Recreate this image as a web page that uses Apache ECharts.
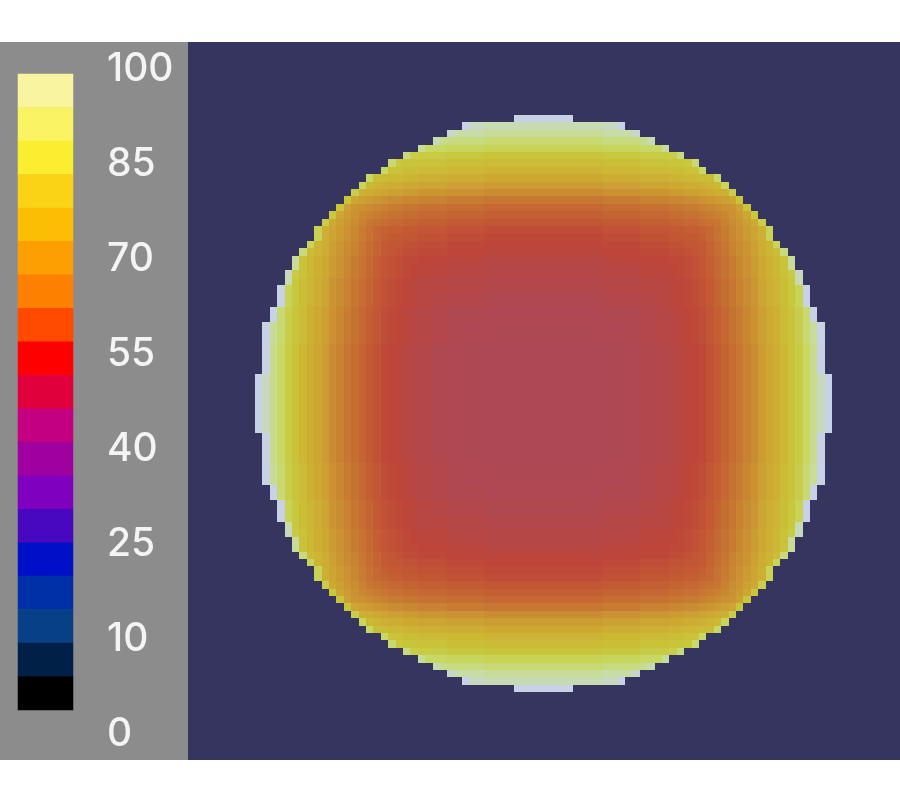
<!DOCTYPE html>
<html>
<head>
<meta charset="utf-8">
<style>html,body{margin:0;padding:0;background:#fff}#c{width:900px;height:800px}</style>
<script src="https://cdn.jsdelivr.net/npm/echarts@6/dist/echarts.min.js"></script>
</head>
<body>
<div id="c"></div>
<script>
// Tick labels of the colour bar, top to bottom
var tickLabels = ['100','85','70','55','40','25','10','0'];
// Colour bar bands, top to bottom
var bandColors = ['#F8F4A0','#FAF363','#FBEE30','#FBD316','#FCBE04','#FD9F02','#FE8000','#FF4A00','#FF0000','#E0003C','#C40080','#A000A0','#8000C0','#4808C0','#0010C8','#0030A8','#084088','#002048','#000000'];
// Colours of the disk field from value 40 to 100 in equal steps
var fieldColors = ['#A84860','#AB4858','#B04850','#BE453A','#C45A34','#C67232','#CA8C32','#CDA532','#CDB834','#C8C83C','#C8D864','#C8DCA5','#C8D2E6'];
// Upper right quarter of the disk, read row by row from the centre outwards
var quarter = [
[47,47,47,47,47,47,47,47,48,48,48,49,49,50,50,51,51,52,53,54,55,56,58,60,62,64,66,68,70,73,75,77,80,83,86,90,93,97,100],
[47,47,47,47,47,47,47,47,48,48,48,49,49,50,50,51,51,52,53,54,55,56,58,60,62,64,66,68,70,73,75,77,80,83,86,90,93,97,100],
[47,47,47,47,47,47,47,47,48,48,48,49,49,50,50,51,51,52,53,54,55,56,58,60,62,64,66,68,70,73,75,77,80,83,86,90,93,97,100],
[47,47,47,47,47,47,47,47,48,48,48,49,49,50,50,51,51,52,53,54,55,56,58,60,62,64,66,68,70,73,75,77,80,83,86,90,93,97,100],
[47,47,47,47,47,47,47,47,48,48,48,49,49,50,50,51,51,52,53,54,55,56,58,60,62,64,66,68,70,73,75,77,80,83,86,90,93,100],
[47,47,47,47,47,47,47,47,48,48,48,49,49,50,50,51,51,52,53,54,55,56,58,60,62,64,66,68,70,73,75,77,80,83,86,90,93,100],
[47,47,47,47,47,47,47,47,48,48,48,49,49,50,50,51,51,52,53,54,55,56,58,60,62,64,66,68,70,73,75,77,80,83,86,90,93,100],
[47,47,47,47,47,47,47,47,48,48,48,49,49,50,50,51,51,52,53,54,55,56,58,60,62,64,66,68,70,73,75,77,80,83,86,90,93,100],
[48,48,48,48,48,48,48,48,49,49,49,50,50,51,51,52,52,53,54,55,56,57,59,61,63,65,67,69,71,74,76,78,81,84,87,91,94,100],
[48,48,48,48,48,48,48,48,49,49,49,50,50,51,51,52,52,53,54,55,56,57,59,61,63,65,67,69,71,74,76,78,81,84,87,91,94,100],
[48,48,48,48,48,48,48,48,49,49,49,50,50,51,51,52,52,53,54,55,56,57,59,61,63,65,67,69,71,74,76,78,81,84,87,91,94,100],
[49,49,49,49,49,49,49,49,50,50,50,50,50,51,51,52,52,53,54,55,56,57,59,61,63,65,67,69,71,74,76,78,81,84,87,91,100],
[49,49,49,49,49,49,49,49,50,50,50,50,50,51,51,52,52,53,54,55,56,57,59,61,63,65,67,69,71,74,76,78,81,84,87,91,100],
[50,50,50,50,50,50,50,50,51,51,51,51,51,52,52,53,53,54,55,56,57,58,60,62,64,66,68,70,72,75,77,79,82,85,88,100],
[50,50,50,50,50,50,50,50,51,51,51,51,51,52,52,53,53,54,55,56,57,58,60,62,64,66,68,70,72,75,77,79,82,85,88,100],
[51,51,51,51,51,51,51,51,52,52,52,52,52,53,53,53,53,54,55,56,57,58,60,62,64,66,68,70,72,75,77,79,82,85,88,100],
[51,51,51,51,51,51,51,51,52,52,52,52,52,53,53,53,53,54,55,56,57,58,60,62,64,66,68,70,72,75,77,79,82,85,96],
[52,52,52,52,52,52,52,52,53,53,53,53,53,54,54,54,54,55,56,57,58,59,61,63,65,67,69,71,73,76,78,80,83,86,97],
[52,52,52,52,52,52,52,52,53,53,53,53,53,54,54,54,54,55,56,57,58,59,61,63,65,67,69,71,73,76,78,80,83,94],
[53,53,53,53,53,53,53,53,54,54,54,54,54,55,55,55,55,56,56,57,58,59,61,63,65,67,69,71,73,76,78,80,83,94],
[54,54,54,54,54,54,54,54,55,55,55,55,55,56,56,56,56,57,57,58,59,60,62,64,66,68,70,72,74,77,79,81,92],
[55,55,55,55,55,55,55,55,56,56,56,56,56,57,57,57,57,58,58,59,59,60,62,64,66,68,70,72,74,77,79,89],
[56,56,56,56,56,56,56,56,57,57,57,57,57,58,58,58,58,59,59,60,60,61,63,65,67,69,71,73,75,78,88],
[57,57,57,57,57,57,57,57,58,58,58,58,58,59,59,59,59,60,60,61,61,62,63,65,67,69,71,73,75,78,88],
[59,59,59,59,59,59,59,59,60,60,60,60,60,61,61,61,61,62,62,63,63,64,65,66,68,70,72,74,76,87],
[61,61,61,61,61,61,61,61,62,62,62,62,62,63,63,63,63,64,64,65,65,66,67,68,69,71,73,75,85],
[63,63,63,63,63,63,63,63,64,64,64,64,64,65,65,65,65,66,66,67,67,68,69,70,71,72,74,84],
[66,66,66,66,66,66,66,66,67,67,67,67,67,68,68,68,68,69,69,70,70,71,72,73,74,75,84],
[70,70,70,70,70,70,70,70,71,71,71,71,71,72,72,72,72,73,73,74,74,75,76,77,78,87],
[73,73,73,73,73,73,73,73,74,74,74,74,74,75,75,75,75,76,76,77,77,78,79,80,89],
[76,76,76,76,76,76,76,76,77,77,77,77,77,78,78,78,78,79,79,80,80,81,82,90],
[79,79,79,79,79,79,79,79,80,80,80,80,80,81,81,81,81,82,82,83,83,90],
[81,81,81,81,81,81,81,81,82,82,82,82,82,83,83,83,83,84,84,85,91],
[84,84,84,84,84,84,84,84,85,85,85,85,85,86,86,86,86,87,92],
[88,88,88,88,88,88,88,88,89,89,89,89,89,90,90,90,94],
[91,91,91,91,91,91,91,91,92,92,92,92,92,93,96],
[94,94,94,94,94,94,94,94,95,95,95,95,98],
[96,96,96,96,96,96,96,96,97,97,100],
[100,100,100,100]
];

var half = quarter.length, side = half * 2;
var indices = [];
for (var k = 0; k < side; k++) indices.push(k);
var cells = [];
quarter.forEach(function (row, j) {
  row.forEach(function (v, i) {
    cells.push([half + i, half + j, v], [half - 1 - i, half + j, v],
               [half + i, half - 1 - j, v], [half - 1 - i, half - 1 - j, v]);
  });
});

var bandCount = bandColors.length, bandStep = 100 / bandCount;
var bandIdx = [], bandCells = [], bandPieces = [];
bandColors.forEach(function (c, i) {
  var lo = (bandCount - 1 - i) * bandStep;
  bandIdx.push(i);
  bandCells.push([0, i, lo + bandStep / 2]);
  bandPieces.push({ min: lo, max: lo + bandStep, color: c });
});

var hidden = { show: false };
function hiddenAxis(grid, extra) {
  return Object.assign({ gridIndex: grid, show: false, axisLine: hidden, axisTick: hidden, axisLabel: hidden, splitLine: hidden }, extra || {});
}
// Snap a cell edge to a whole pixel; the inner rounding removes floating point noise
function snap(v) { return Math.round(Math.round(v * 100) / 100 + 0.001); }
function renderCell(params, api) {
  var p = api.coord([api.value(0), api.value(1)]);
  var s = api.size([1, 1]);
  var x0 = snap(p[0] - s[0] / 2), x1 = snap(p[0] + s[0] / 2);
  var y0 = snap(p[1] - s[1] / 2), y1 = snap(p[1] + s[1] / 2);
  return { type: 'rect', shape: { x: x0, y: y0, width: x1 - x0, height: y1 - y0 }, style: { fill: api.visual('color') } };
}

var chart = echarts.init(document.getElementById('c'), null, { renderer: 'canvas' });
chart.setOption({
  animation: false,
  backgroundColor: '#ffffff',
  grid: [
    { left: 0, top: 42, width: 188, height: 718, show: true, backgroundColor: '#8C8C8C', borderWidth: 0 },
    { left: 188, top: 42, width: 712, height: 718, show: true, backgroundColor: '#35355F', borderWidth: 0 },
    { left: 254.9, top: 114.9, width: 577.2, height: 577.2, borderWidth: 0 },
    { left: 18, top: 74, width: 55, height: 636, borderWidth: 0 },
    { left: 107, top: 69, width: 70, height: 665, borderWidth: 0 }
  ],
  xAxis: [
    hiddenAxis(0, { type: 'value' }),
    hiddenAxis(1, { type: 'value' }),
    hiddenAxis(2, { type: 'category', data: indices }),
    hiddenAxis(3, { type: 'category', data: [0] }),
    hiddenAxis(4, { type: 'value' })
  ],
  yAxis: [
    hiddenAxis(0, { type: 'value' }),
    hiddenAxis(1, { type: 'value' }),
    hiddenAxis(2, { type: 'category', data: indices }),
    hiddenAxis(3, { type: 'category', data: bandIdx, inverse: true }),
    {
      gridIndex: 4, type: 'category', data: tickLabels, inverse: true, boundaryGap: false,
      axisLine: hidden, axisTick: hidden, splitLine: hidden,
      axisLabel: {
        show: true, inside: true, margin: 0, interval: 0, align: 'left', verticalAlign: 'middle',
        color: '#F4F4F4', fontFamily: 'Inter', fontWeight: 500, fontSize: 39, showMinLabel: true, showMaxLabel: true, hideOverlap: false
      }
    }
  ],
  visualMap: [
    { type: 'continuous', show: false, seriesIndex: 0, dimension: 2, min: 40, max: 100, inRange: { color: fieldColors } },
    { type: 'piecewise', show: false, seriesIndex: 1, dimension: 2, pieces: bandPieces }
  ],
  series: [
    { type: 'custom', xAxisIndex: 2, yAxisIndex: 2, data: cells, encode: { x: 0, y: 1 }, renderItem: renderCell, silent: true, progressive: 0 },
    { type: 'heatmap', xAxisIndex: 3, yAxisIndex: 3, data: bandCells, progressive: 0, silent: true, emphasis: { disabled: true } }
  ]
});
</script>
</body>
</html>
